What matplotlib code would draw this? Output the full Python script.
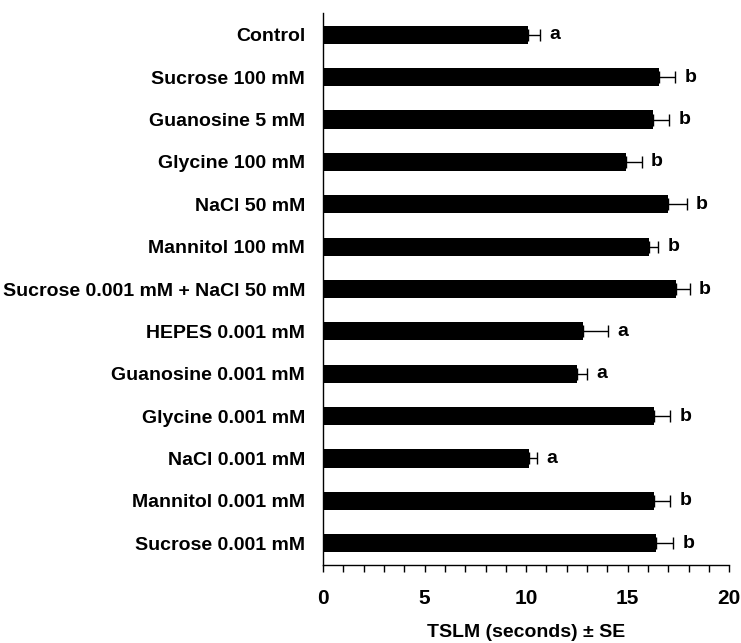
import matplotlib
matplotlib.use('Agg')
import matplotlib.pyplot as plt
from matplotlib.ticker import MultipleLocator

# ─── data ────────────────────────────────────────────────────────────────────
treatments = [
    'Control',
    'Sucrose 100 mM',
    'Guanosine 5 mM',
    'Glycine 100 mM',
    'NaCl 50 mM',
    'Mannitol 100 mM',
    'Sucrose 0.001 mM + NaCl 50 mM',
    'HEPES 0.001 mM',
    'Guanosine 0.001 mM',
    'Glycine 0.001 mM',
    'NaCl 0.001 mM',
    'Mannitol 0.001 mM',
    'Sucrose 0.001 mM',
]
tslm_mean = [10.1, 16.55, 16.25, 14.9, 17.0, 16.05, 17.4, 12.8, 12.5, 16.3, 10.15, 16.3, 16.4]
tslm_se   = [0.6, 0.8, 0.8, 0.8, 0.9, 0.45, 0.65, 1.25, 0.5, 0.8, 0.4, 0.8, 0.85]
groups    = ['a', 'b', 'b', 'b', 'b', 'b', 'b', 'a', 'a', 'b', 'a', 'b', 'b']

plt.rcParams['font.family'] = ['Liberation Sans', 'DejaVu Sans']
plt.rcParams['font.weight'] = 'bold'

fig = plt.figure(figsize=(7.41, 6.43), dpi=100)
ax = fig.add_axes([0.436, 0.121, 0.548, 0.859])

ypos = list(range(len(treatments)))
ax.barh(ypos, tslm_mean, height=0.43, color='black', zorder=2)
ax.errorbar(tslm_mean, ypos, xerr=[[0] * len(tslm_se), tslm_se],
            fmt='none', ecolor='black', elinewidth=1.0, capsize=4, capthick=1.0,
            zorder=1)

# significance letters to the right of each error bar
for y, m, s, g in zip(ypos, tslm_mean, tslm_se, groups):
    ax.text(m + s + 0.45, y, g, ha='left', va='center',
            fontsize=14, fontweight='bold')

ax.set_xlim(0, 20)
ax.set_ylim(len(treatments) - 0.48, -0.52)
ax.set_yticks(ypos)
ax.set_yticklabels(treatments, fontsize=14, fontweight='bold')
ax.tick_params(axis='y', length=0, pad=13)

ax.xaxis.set_major_locator(MultipleLocator(5))
ax.xaxis.set_minor_locator(MultipleLocator(1))
ax.tick_params(axis='x', which='both', direction='out', length=5, width=1,
               labelsize=15, pad=12)
for lbl in ax.get_xticklabels():
    lbl.set_fontweight('bold')

ax.set_xlabel('TSLM (seconds) \u00b1 SE', fontsize=14, fontweight='bold',
              labelpad=12)

for side in ('top', 'right'):
    ax.spines[side].set_visible(False)
ax.spines['left'].set_linewidth(1)
ax.spines['bottom'].set_linewidth(1)

fig.savefig('out.png', dpi=100)
